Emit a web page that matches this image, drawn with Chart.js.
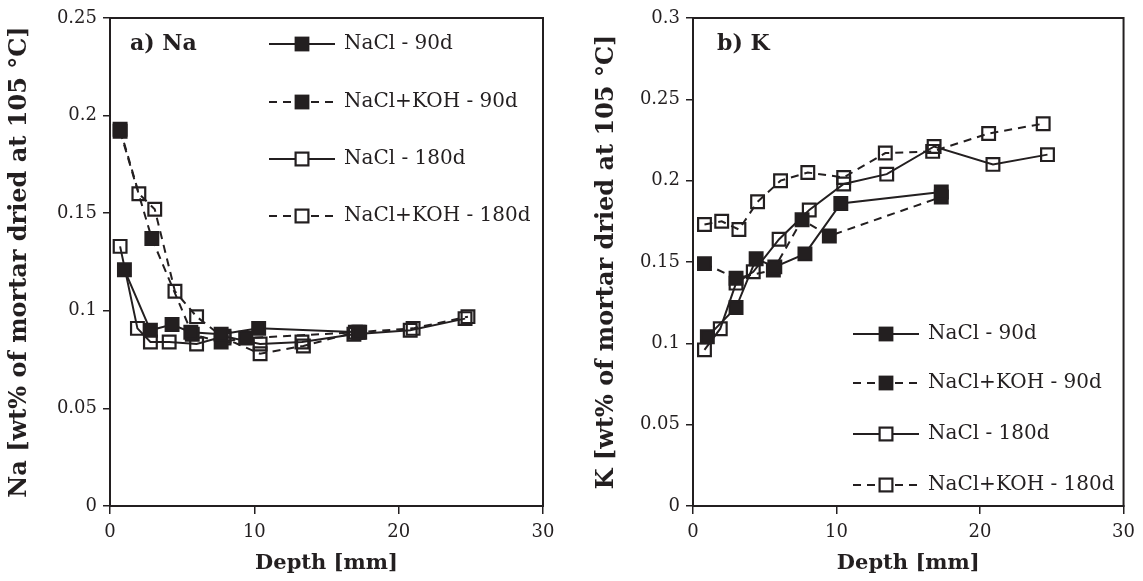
<!DOCTYPE html>
<html>
<head>
<meta charset="utf-8">
<script src="https://cdn.jsdelivr.net/npm/chart.js@4.4.0/dist/chart.umd.min.js"></script>
<style>
  html, body { margin: 0; padding: 0; background: #fff; }
  #wrap { position: relative; width: 1143px; height: 581px; }
  canvas { position: absolute; top: 0; }
  #chartNa { left: 0; }
  #chartK { left: 580px; }
</style>
</head>
<body>
<div id="wrap">
  <canvas id="chartNa" width="580" height="581"></canvas>
  <canvas id="chartK" width="563" height="581"></canvas>
</div>
<script>
/* ---- Datos ---- */
const seriesLabels = ['NaCl - 90d', 'NaCl+KOH - 90d', 'NaCl - 180d', 'NaCl+KOH - 180d'];
const xTicks = [0, 10, 20, 30];

// a) Na
const naNaCl90X  = [1.0, 2.8, 4.3, 5.6, 7.7, 10.3, 17.3];
const naNaCl90Y  = [0.121, 0.090, 0.093, 0.089, 0.088, 0.091, 0.089];
const naKOH90X   = [0.7, 2.9, 5.7, 7.7, 9.4, 17.2];
const naKOH90Y   = [0.192, 0.137, 0.088, 0.084, 0.086, 0.089];
const naNaCl180X = [0.7, 1.9, 2.8, 4.1, 6.0, 7.9, 10.4, 13.3, 16.9, 20.8, 24.6];
const naNaCl180Y = [0.133, 0.091, 0.084, 0.084, 0.083, 0.087, 0.083, 0.084, 0.088, 0.090, 0.096];
const naKOH180X  = [0.7, 2.0, 3.1, 4.5, 6.0, 7.9, 10.4, 13.4, 17.0, 21.0, 24.8];
const naKOH180Y  = [0.193, 0.160, 0.152, 0.110, 0.097, 0.086, 0.078, 0.082, 0.089, 0.091, 0.097];

// b) K
const kNaCl90X  = [1.0, 3.0, 4.4, 5.7, 7.8, 10.3, 17.3];
const kNaCl90Y  = [0.104, 0.122, 0.152, 0.147, 0.155, 0.186, 0.193];
const kKOH90X   = [0.8, 3.0, 5.6, 7.6, 9.5, 17.3];
const kKOH90Y   = [0.149, 0.140, 0.145, 0.176, 0.166, 0.190];
const kNaCl180X = [0.8, 1.9, 3.0, 4.2, 6.0, 8.1, 10.5, 13.5, 16.8, 20.9, 24.7];
const kNaCl180Y = [0.096, 0.109, 0.137, 0.144, 0.164, 0.182, 0.198, 0.204, 0.221, 0.210, 0.216];
const kKOH180X  = [0.8, 2.0, 3.2, 4.5, 6.1, 8.0, 10.5, 13.4, 16.7, 20.6, 24.4];
const kKOH180Y  = [0.173, 0.175, 0.170, 0.187, 0.200, 0.205, 0.202, 0.217, 0.218, 0.229, 0.235];

/* ---- Estilo ---- */
const INK = '#231f20';
const FONT = "'DejaVu Serif', serif";
const DASH = [8, 6];

function pts(xs, ys) {
  return xs.map((x, i) => ({ x, y: ys[i] }));
}

function makeSet(label, xs, ys, filled, dashed) {
  return {
    label,
    data: pts(xs, ys),
    borderColor: INK,
    borderWidth: 2,
    borderDash: dashed ? DASH : [],
    pointStyle: 'rect',
    pointRadius: 9,
    pointHoverRadius: 9,
    pointBorderWidth: 2.2,
    pointBorderColor: INK,
    pointBackgroundColor: filled ? INK : 'rgba(0,0,0,0)',
    showLine: true,
    tension: 0,
    fill: false,
  };
}

/* ---- Marco + leyenda + etiqueta de panel ---- */
const decoPlugin = {
  id: 'deco',
  afterDraw(chart, args, o) {
    const ctx = chart.ctx;
    const a = chart.chartArea;
    ctx.save();
    ctx.strokeStyle = INK;
    ctx.lineWidth = 2;
    ctx.strokeRect(a.left, a.top, a.right - a.left, a.bottom - a.top);

    // etiqueta del panel
    ctx.fillStyle = INK;
    ctx.font = "bold 22px " + FONT;
    ctx.textBaseline = 'middle';
    ctx.textAlign = 'left';
    ctx.fillText(o.panel, a.left + o.panelDx, o.panelY);

    // leyenda
    ctx.font = "20px " + FONT;
    chart.data.datasets.forEach((ds, i) => {
      const y = o.rows[i];
      const x0 = a.left + o.lineDx, x1 = x0 + 66, mx = (x0 + x1) / 2;
      ctx.setLineDash(ds.borderDash);
      ctx.lineWidth = 2;
      ctx.beginPath(); ctx.moveTo(x0, y); ctx.lineTo(x1, y); ctx.stroke();
      ctx.setLineDash([]);
      const s = 6.4;
      if (ds.pointBackgroundColor === INK) {
        ctx.fillRect(mx - s - 1, y - s - 1, 2 * s + 2, 2 * s + 2);
      } else {
        ctx.fillStyle = '#fff';
        ctx.fillRect(mx - s, y - s, 2 * s, 2 * s);
        ctx.fillStyle = INK;
        ctx.lineWidth = 2.2;
        ctx.strokeRect(mx - s, y - s, 2 * s, 2 * s);
      }
      ctx.fillText(ds.label, x1 + 9, y);
    });
    ctx.restore();
  }
};

// 0.2 en vez de 0.20, como en el original
const fmtY = v => String(+v.toFixed(2));

function buildChart(id, datasets, yMax, yTitle, yWidth, padRight, titlePad, deco) {
  const ctx = document.getElementById(id).getContext('2d');
  return new Chart(ctx, {
    type: 'scatter',
    data: { datasets },
    options: {
      responsive: false,
      animation: false,
      events: [],
      layout: { padding: { top: 18, right: padRight, left: 0, bottom: 0 } },
      plugins: {
        legend: { display: false },
        tooltip: { enabled: false },
        deco,
      },
      scales: {
        x: {
          type: 'linear',
          min: 0, max: 30,
          afterBuildTicks: s => { s.ticks = xTicks.map(v => ({ value: v })); },
          grid: { display: true, drawOnChartArea: false, drawTicks: true, tickLength: 8, color: INK, lineWidth: 1.5 },
          border: { display: true, color: INK, width: 2 },
          ticks: { color: INK, font: { family: FONT, size: 18 }, padding: 8 },
          title: { display: true, text: 'Depth [mm]', color: INK, font: { family: FONT, size: 21, weight: 'bold' }, padding: { top: 0, bottom: 5 } },
          afterFit: s => { s.height = 75; },
        },
        y: {
          type: 'linear',
          min: 0, max: yMax,
          ticks: { stepSize: 0.05, color: INK, font: { family: FONT, size: 18 }, padding: 6, callback: fmtY },
          grid: { display: true, drawOnChartArea: false, drawTicks: true, tickLength: 7, color: INK, lineWidth: 1.5 },
          border: { display: true, color: INK, width: 2 },
          title: { display: true, text: yTitle, color: INK, font: { family: FONT, size: 24, weight: 'bold' }, padding: { top: titlePad, bottom: 0 } },
          afterFit: s => { s.width = yWidth; },
        },
      },
    },
    plugins: [decoPlugin],
  });
}

buildChart('chartNa', [
  makeSet(seriesLabels[0], naNaCl90X, naNaCl90Y, true, false),
  makeSet(seriesLabels[1], naKOH90X, naKOH90Y, true, true),
  makeSet(seriesLabels[2], naNaCl180X, naNaCl180Y, false, false),
  makeSet(seriesLabels[3], naKOH180X, naKOH180Y, false, true),
], 0.25, 'Na [wt% of mortar dried at 105 °C]', 110, 37, 5,
  { panel: 'a) Na', panelDx: 20, panelY: 44, lineDx: 159, rows: [44, 102, 159, 216] });

buildChart('chartK', [
  makeSet(seriesLabels[0], kNaCl90X, kNaCl90Y, true, false),
  makeSet(seriesLabels[1], kKOH90X, kKOH90Y, true, true),
  makeSet(seriesLabels[2], kNaCl180X, kNaCl180Y, false, false),
  makeSet(seriesLabels[3], kKOH180X, kKOH180Y, false, true),
], 0.3, 'K [wt% of mortar dried at 105 °C]', 113, 12, 12,
  { panel: 'b) K', panelDx: 24, panelY: 44, lineDx: 160, rows: [334, 383, 434, 485] });
</script>
</body>
</html>
